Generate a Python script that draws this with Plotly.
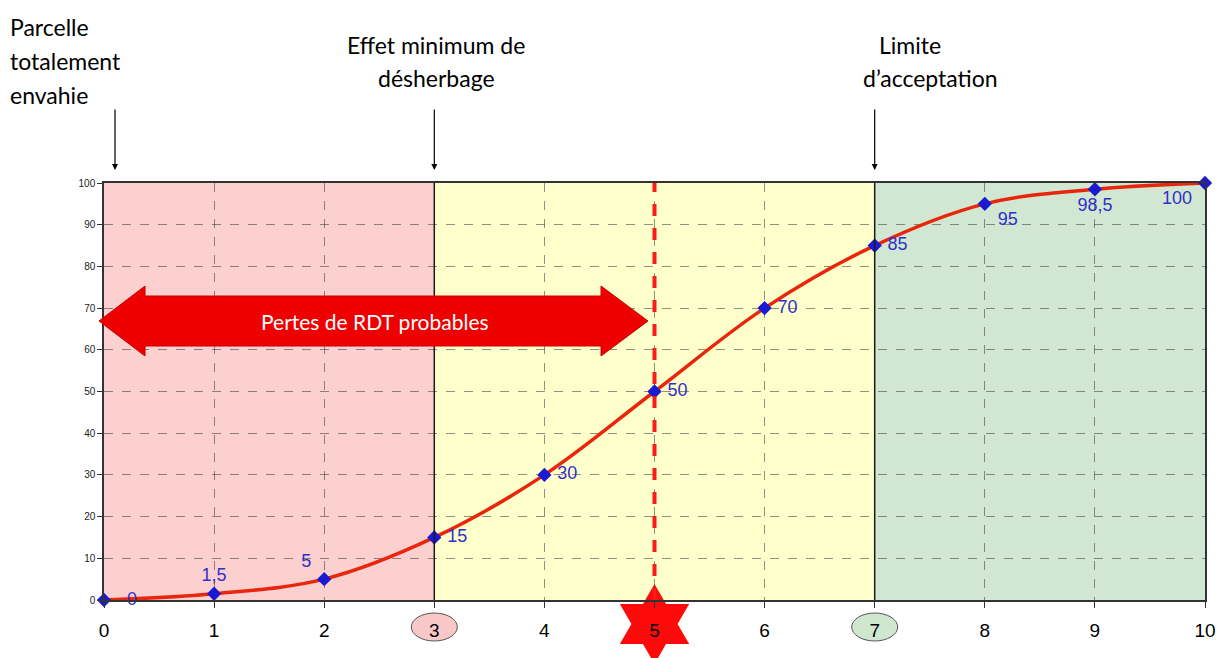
import math
import plotly.graph_objects as go

# note (x) et rendement relatif (%)
x_vals = [0, 1, 2, 3, 4, 5, 6, 7, 8, 9, 10]
y_vals = [0, 1.5, 5, 15, 30, 50, 70, 85, 95, 98.5, 100]
point_labels = ["0", "1,5", "5", "15", "30", "50", "70", "85", "95", "98,5", "100"]
label_pos = ["middle right", "top center", "top left", "middle right", "middle right",
             "middle right", "middle right", "middle right", "bottom right",
             "bottom center", "bottom left"]
x_ticks = list(range(0, 11))
y_ticks = list(range(0, 101, 10))

# zones de la note
zones = [(0, 3, "#fdd0d0"), (3, 7, "#ffffcc"), (7, 10, "#d2e7d2")]

TXT_FONT = "Lato, 'Open Sans', sans-serif"

# géométrie de la zone de tracé (px)
L, R, T, B = 104, 20, 183, 58
W, H = 1225, 658
PW, PH = W - L - R, H - T - B


def px(xp):
    return (xp - L) / PW


def py(yp):
    return (H - B - yp) / PH


fig = go.Figure()

fig.add_trace(go.Scatter(
    x=x_vals, y=y_vals, mode="lines+markers+text",
    line=dict(color="#e8260c", width=3.5, shape="spline", smoothing=1),
    marker=dict(symbol="diamond", size=11, color="#1a1ad0"),
    text=[("   " if t == "0" else " ") + t + " " for t in point_labels],
    textposition=label_pos,
    textfont=dict(family="Arial", size=18, color="#3030c8"),
    cliponaxis=False, hoverinfo="skip",
))

for x0, x1, col in zones:
    fig.add_shape(type="rect", xref="x", yref="paper", x0=x0, x1=x1, y0=0, y1=1,
                  fillcolor=col, line_width=0, layer="below")

for xv in (3, 7):
    fig.add_shape(type="line", xref="x", yref="paper", x0=xv, x1=xv, y0=0, y1=1,
                  line=dict(color="#1a1a1a", width=1.5))

fig.add_shape(type="line", xref="x", yref="paper", x0=5, x1=5, y0=0, y1=1,
              line=dict(color="#ff1a1a", width=4, dash="dash"))

# étoile rouge sous la note 5
cx, cy, ro = 104 + 5 * PW / 10, 624, 40
ri = ro / math.sqrt(3)
pts = []
for k in range(12):
    ang = math.radians(90 + 30 * k)
    rr = ro if k % 2 == 0 else ri
    pts.append((px(cx + rr * math.cos(ang)), py(cy - rr * math.sin(ang))))
star_path = "M " + " L ".join(f"{a:.4f} {b:.4f}" for a, b in pts) + " Z"
fig.add_shape(type="path", xref="paper", yref="paper", path=star_path,
              fillcolor="#ff0a0a", line_width=0, layer="below")

# flèche double "Pertes de RDT probables"
xl, xlh, xrh, xr = px(99), px(145), px(601), px(648)
yc, st, sb, ht, hb = py(321), py(296), py(346), py(286), py(356)
arrow_path = (f"M {xl} {yc} L {xlh} {ht} L {xlh} {st} L {xrh} {st} L {xrh} {ht} "
              f"L {xr} {yc} L {xrh} {hb} L {xrh} {sb} L {xlh} {sb} L {xlh} {hb} Z")
fig.add_shape(type="path", xref="paper", yref="paper", path=arrow_path,
              fillcolor="#ee0000", line=dict(color="#c80000", width=1))
fig.add_annotation(x=px(375), y=yc, xref="paper", yref="paper", showarrow=False,
                   xanchor="center", yanchor="middle",
                   text="Pertes de RDT probables",
                   font=dict(family=TXT_FONT, size=21, color="white"))

# pastilles autour des notes 3 et 7
for xa, col in ((3, "#f8c8c8"), (7, "#cfe6cf")):
    xc = L + xa * PW / 10
    fig.add_shape(type="circle", xref="paper", yref="paper",
                  x0=px(xc - 23), x1=px(xc + 23), y0=py(641), y1=py(613),
                  fillcolor=col, line=dict(color="#555555", width=1), layer="below")

# repères du haut
for xa in (0.1, 3, 7):
    fig.add_annotation(x=xa, y=py(170), xref="x", yref="paper",
                       text="", showarrow=True, ax=0, ay=-62, arrowhead=2,
                       arrowsize=1, arrowwidth=1.2, arrowcolor="black")

top_lines = [
    ("Parcelle", 8, 27, "left"),
    ("totalement", 8, 61, "left"),
    ("envahie", 8, 95, "left"),
    ("Effet minimum de", 436, 45, "center"),
    ("désherbage", 436, 78, "center"),
    ("Limite", 910, 45, "center"),
    ("d’acceptation", 930, 78, "center"),
]
for txt, xp, yp, anc in top_lines:
    fig.add_annotation(x=px(xp), y=py(yp), xref="paper", yref="paper",
                       xanchor=anc, yanchor="middle", showarrow=False, text=txt,
                       font=dict(family=TXT_FONT, size=23, color="black"))

fig.update_xaxes(range=[0, 10], tickvals=x_ticks, ticks="outside", ticklen=6,
                 tickcolor="#333", showgrid=True, gridcolor="rgba(70,70,70,0.6)",
                 griddash="dash", gridwidth=1, showline=True, linecolor="#333",
                 linewidth=1.5, mirror=True, zeroline=False, automargin=False,
                 tickfont=dict(family="Arial", size=19, color="black"),
                 ticklabelstandoff=6)
fig.update_yaxes(range=[0, 100], tickvals=y_ticks, ticks="outside", ticklen=5,
                 tickcolor="#333", showgrid=True, gridcolor="rgba(70,70,70,0.6)",
                 griddash="dash", gridwidth=1, showline=True, linecolor="#333",
                 linewidth=1.5, mirror=True, zeroline=False, automargin=False,
                 tickfont=dict(family="Arial", size=10, color="#222"))

fig.update_layout(
    width=W, height=H, showlegend=False,
    margin=dict(l=L, r=R, t=T, b=B),
    plot_bgcolor="white", paper_bgcolor="white",
)

# pas de marge de page autour de la figure
fig.write_html("out.html", config={"displayModeBar": False},
               post_script="document.body.style.margin='0';")
